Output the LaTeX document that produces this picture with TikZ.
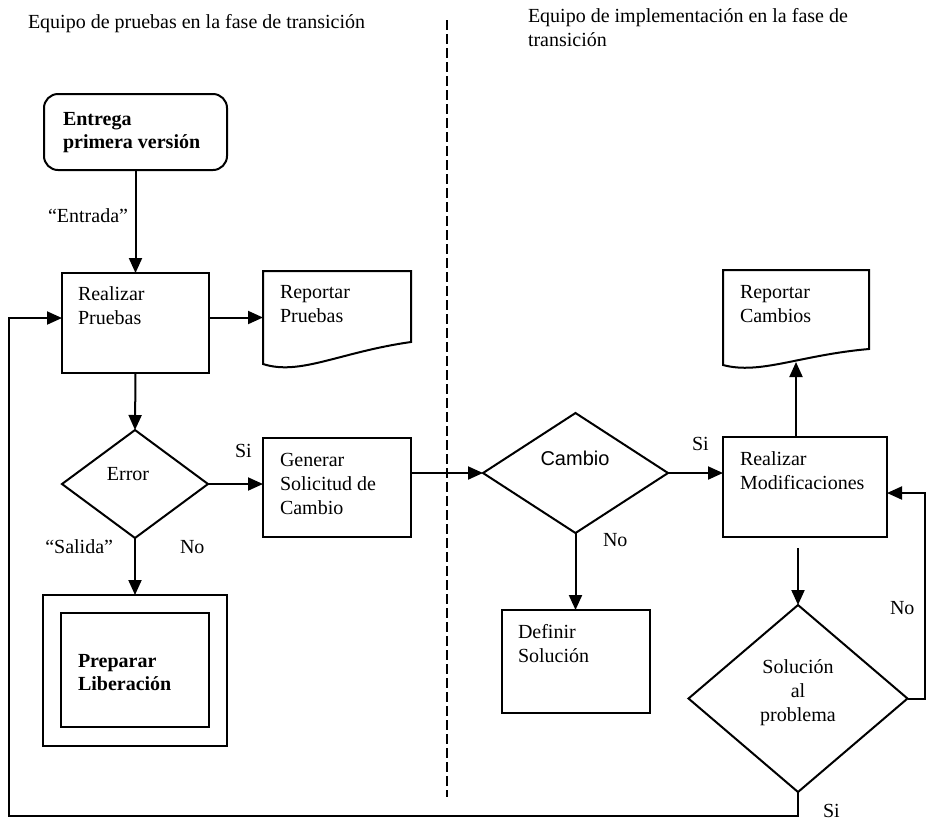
\documentclass[tikz,border=0pt]{standalone}
\usepackage{fontspec}
\setmainfont{Liberation Serif}
\newfontfamily\sansfam{Liberation Sans}
\usetikzlibrary{arrows.meta,shapes.geometric,calc}
% multi-line labels whose baseline is the first line
\newcommand\stackL[1]{\begin{tabular}[t]{@{}l@{}}#1\end{tabular}}
\newcommand\stackC[1]{\begin{tabular}[t]{@{}c@{}}#1\end{tabular}}

\begin{document}
\begin{tikzpicture}[x=1pt,y=-1pt,
  every node/.style={inner sep=0pt, outer sep=0pt},
  lbl/.style={font=\fontsize{20}{24}\selectfont},
  boldlbl/.style={font=\fontsize{20}{23}\selectfont\bfseries},
  boxnode/.style={draw, line width=2pt, rectangle},
  docnode/.style={rectangle},
  decision/.style={draw, line width=2pt, diamond},
  link/.style={line width=2pt, line join=miter},
  flow/.style={line width=2pt, -{Triangle[length=15pt,width=13pt]}},
  lane/.style={line width=2pt, dash pattern=on 10pt off 4pt}]

\useasboundingbox (0,0) rectangle (928,823);

% lane titles and separator
\node[lbl, anchor=base west] (ttlA) at (28,28) {Equipo de pruebas en la fase de transición};
\node[lbl, anchor=base west] (ttlB) at (528,22) {\stackL{Equipo de implementación en la fase de\\transición}};
\coordinate (laneTop) at (447,20);
\coordinate (laneBot) at (447,797);
\draw[lane] (laneTop) -- (laneBot);

% testing team
\node[boxnode, rounded corners=14pt, minimum width=183pt, minimum height=76pt] (ent) at (135.5,132) {};
\node[boldlbl, anchor=base west] (entT) at (63,125) {\stackL{Entrega\\primera versión}};

\node[boxnode, minimum width=147pt, minimum height=100pt] (rp) at (135.5,323) {};
\node[lbl, anchor=base west] (rpT) at (78,300) {\stackL{Realizar\\Pruebas}};

\node[docnode, minimum width=148pt, minimum height=93pt] (repP) at (337,317.5) {};
\draw[link] (repP.south west) -- (repP.north west) -- (repP.north east) -- ([yshift=22pt]repP.south east)
  .. controls ($(repP.south west)+(77,-12)$) and ($(repP.south west)+(37,12)$) .. (repP.south west) -- cycle;
\node[lbl, anchor=base west] (repPT) at (280,298) {\stackL{Reportar\\Pruebas}};

\node[decision, minimum width=146pt, minimum height=108pt] (err) at (135,484) {};
\node[lbl, anchor=base] (errT) at (128,480) {Error};

\node[boxnode, minimum width=148pt, minimum height=99pt] (gen) at (337,487.5) {};
\node[lbl, anchor=base west] (genT) at (280,466) {\stackL{Generar\\Solicitud de\\Cambio}};

\node[boxnode, minimum width=184pt, minimum height=151pt] (prepO) at (135,670.5) {};
\node[boxnode, minimum width=148pt, minimum height=114pt] (prep) at (135,670) {};
\node[boldlbl, anchor=base west] (prepT) at (78,667) {\stackL{Preparar\\Liberación}};

% implementation team
\node[decision, minimum width=185pt, minimum height=120pt] (cam) at (575.5,473) {};
\node[lbl, font=\fontsize{20}{24}\sansfam, anchor=base] (camT) at (575,465) {Cambio};

\node[boxnode, minimum width=164pt, minimum height=100pt] (rm) at (805,487) {};
\node[lbl, anchor=base west] (rmT) at (740,465) {\stackL{Realizar\\Modificaciones}};

\node[docnode, minimum width=146pt, minimum height=95pt] (repC) at (796,317.5) {};
\draw[link] (repC.south west) -- (repC.north west) -- (repC.north east) -- ([yshift=16pt]repC.south east)
  .. controls ($(repC.south west)+(77,-10)$) and ($(repC.south west)+(37,10)$) .. (repC.south west) -- cycle;
\node[lbl, anchor=base west] (repCT) at (740,298) {\stackL{Reportar\\Cambios}};

\node[boxnode, minimum width=148pt, minimum height=103pt] (def) at (576,661.5) {};
\node[lbl, anchor=base west] (defT) at (518,638) {\stackL{Definir\\Solución}};

\node[decision, minimum width=219pt, minimum height=187pt] (sol) at (798,698.5) {};
\node[lbl, anchor=base] (solT) at (798,673) {\stackC{Solución\\al\\problema}};

% branch labels
\node[lbl, anchor=base east] (inL) at (128,222) {“Entrada”};
\node[lbl, anchor=base east] (outL) at (113,553) {“Salida”};
\node[lbl, anchor=base west] (errNo) at (180,553) {No};
\node[lbl, anchor=base west] (errSi) at (235,457) {Si};
\node[lbl, anchor=base west] (camSi) at (692,450) {Si};
\node[lbl, anchor=base west] (camNo) at (603,546) {No};
\node[lbl, anchor=base west] (solNo) at (890,614) {No};
\node[lbl, anchor=base west] (solSi) at (823,817) {Si};

% connectors
\draw[flow] (ent.south) -- (rp.north);
\draw[flow] (rp.east |- repP.west) -- (repP.west);
\draw[flow] (rp.south) -- (err.north);
\draw[flow] (err.east) -- (err.east -| gen.west);
\draw[flow] (err.south) -- (prepO.north);
\draw[flow] (gen.east |- cam.west) -- (cam.west);
\draw[flow] (cam.east) -- (cam.east -| rm.west);
\coordinate (repCin) at (796,362);
\draw[flow] (rm.north -| repCin) -- (repCin);
\draw[flow] (cam.south) -- (cam.south |- def.north);
\draw[flow, shorten <=11pt] (sol.north |- rm.south) -- (sol.north);
\draw[flow] (sol.east) -- ++(17,0) |- ([yshift=-6pt]rm.east);
\coordinate (loopBL) at (9,816);
\draw[flow] (sol.south) |- (loopBL) |- ([yshift=5pt]rp.west);
\end{tikzpicture}
\end{document}
